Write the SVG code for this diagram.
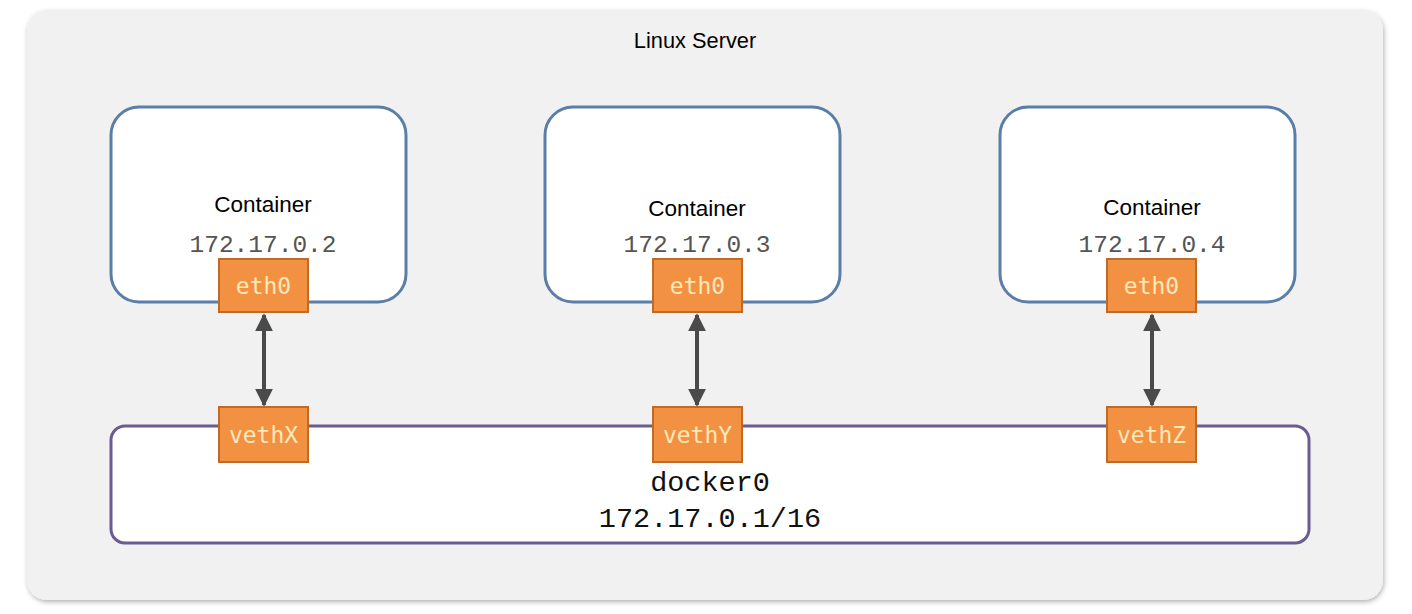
<svg xmlns="http://www.w3.org/2000/svg" width="1412" height="614" viewBox="0 0 1412 614">
<defs>
<filter id="sh" x="-5%" y="-5%" width="110%" height="110%">
<feDropShadow dx="1" dy="2" stdDeviation="2.5" flood-color="#000" flood-opacity="0.3"/>
</filter>
<marker id="ah" viewBox="0 0 10 10" refX="9" refY="5" markerWidth="4.5" markerHeight="4.5" orient="auto-start-reverse" markerUnits="strokeWidth">
<path d="M0,0 L10,5 L0,10 z" fill="#4a4a4a"/>
</marker>
<style>
.cont{fill:#fff;stroke:#5b7ea8;stroke-width:3}
.port{fill:#f39143;stroke:#c06a28;stroke-width:2}
.pt{font-family:"DejaVu Sans Mono",monospace;font-size:23px;fill:#fde8b8;text-anchor:middle}
.lbl{font-family:"Liberation Sans",Arial,sans-serif;font-size:22.5px;fill:#000;text-anchor:middle}
.ip{font-family:"Liberation Mono","Courier New",monospace;font-size:24.5px;fill:#555;text-anchor:middle}
.br{font-family:"Liberation Mono","Courier New",monospace;font-size:28.5px;fill:#111;text-anchor:middle}
.ln{stroke:#4a4a4a;stroke-width:4;fill:none;marker-start:url(#ah);marker-end:url(#ah)}
</style>
</defs>
<rect width="1412" height="614" fill="#fff"/>
<g id="server">
<rect x="27" y="10" width="1356" height="590" rx="20" fill="#f1f1f1" filter="url(#sh)"/>
<text class="lbl" x="695" y="48" style="font-size:21.8px">Linux Server</text>
</g>
<g id="docker0">
<rect x="111" y="426" width="1198" height="117" rx="14" fill="#fff" stroke="#6c5b8f" stroke-width="3"/>
<text class="br" x="710" y="491">docker0</text>
<text class="br" x="710" y="527">172.17.0.1/16</text>
</g>
<g id="container1">
<rect class="cont" x="111" y="107" width="295" height="195" rx="28"/>
<text class="lbl" x="263" y="212">Container</text>
<text class="ip" x="263" y="252">172.17.0.2</text>
</g>
<g id="container2">
<rect class="cont" x="545" y="107" width="295" height="195" rx="28"/>
<text class="lbl" x="697" y="216">Container</text>
<text class="ip" x="697" y="252">172.17.0.3</text>
</g>
<g id="container3">
<rect class="cont" x="1000" y="107" width="295" height="195" rx="28"/>
<text class="lbl" x="1152" y="215">Container</text>
<text class="ip" x="1152" y="252">172.17.0.4</text>
</g>
<g id="eth0-1">
<rect class="port" x="219" y="259" width="89" height="53"/>
<text class="pt" x="263.5" y="294">eth0</text>
</g>
<g id="eth0-2">
<rect class="port" x="653" y="259" width="89" height="53"/>
<text class="pt" x="697.5" y="294">eth0</text>
</g>
<g id="eth0-3">
<rect class="port" x="1107" y="259" width="89" height="53"/>
<text class="pt" x="1151.5" y="294">eth0</text>
</g>
<g id="vethX">
<rect class="port" x="219" y="407" width="89" height="55"/>
<text class="pt" x="263.5" y="443">vethX</text>
</g>
<g id="vethY">
<rect class="port" x="653" y="407" width="89" height="55"/>
<text class="pt" x="697.5" y="443">vethY</text>
</g>
<g id="vethZ">
<rect class="port" x="1107" y="407" width="89" height="55"/>
<text class="pt" x="1151.5" y="443">vethZ</text>
</g>
<g id="connectors">
<line class="ln" x1="264" y1="315" x2="264" y2="405"/>
<line class="ln" x1="697" y1="315" x2="697" y2="405"/>
<line class="ln" x1="1152" y1="315" x2="1152" y2="405"/>
</g>
</svg>
